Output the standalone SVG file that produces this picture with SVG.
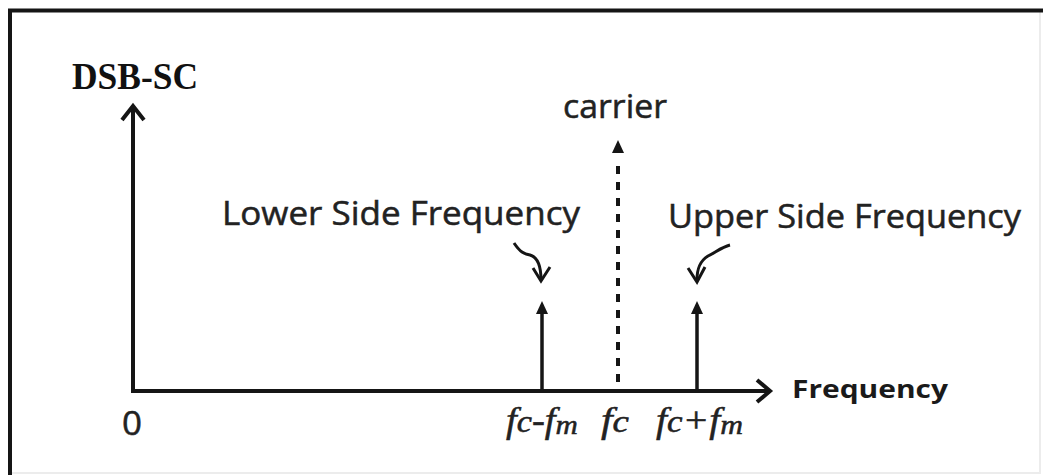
<svg xmlns="http://www.w3.org/2000/svg" width="1043" height="475" viewBox="0 0 1043 475">
  <style>
    .ln { stroke: #151515; fill: none; stroke-linecap: butt; stroke-linejoin: miter; }
    .lbl { font-family: "Open Sans", "Liberation Sans", sans-serif; fill: #222; stroke: #222; stroke-width: 0.5px; font-size: 32px; }
    .bold { font-family: "Open Sans", "Liberation Sans", sans-serif; font-weight: bold; fill: #1a1a1a; font-size: 25px; }
    .tick { font-family: "Liberation Serif", "DejaVu Serif", serif; font-style: italic; fill: #222; stroke: #222; stroke-width: 0.5px; font-size: 35px; }
    .head { fill: #151515; stroke: none; }
  </style>
  <rect width="1043" height="475" fill="#ffffff"/>
  <g id="frame">
    <path d="M1040,12 V473 H10" fill="none" stroke="#ececec" stroke-width="2"/>
    <path d="M10,475 V10.5 H1043" class="ln" stroke-width="4"/>
  </g>
  <g id="title">
    <text x="72" y="89" font-family="Liberation Serif, serif" font-weight="bold" font-size="38" fill="#111" textLength="126" lengthAdjust="spacingAndGlyphs">DSB-SC</text>
  </g>
  <g id="connectors">
    <path d="M133,106 V391 H769" class="ln" stroke-width="4"/>
    <path d="M122,120 L133,106 L144,120" class="ln" stroke-width="4"/>
    <path d="M757,380 L770,391 L757,402" class="ln" stroke-width="4"/>
    <line x1="542" y1="312" x2="542" y2="391" class="ln" stroke-width="3.5"/>
    <path d="M542,301 L548,314 L536,314 Z" class="head"/>
    <line x1="697" y1="312" x2="697" y2="391" class="ln" stroke-width="3.5"/>
    <path d="M697,301 L703,314 L691,314 Z" class="head"/>
    <line x1="618" y1="166" x2="618" y2="391" class="ln" stroke-width="4" stroke-dasharray="8 8"/>
    <path d="M618,140 L624,153 L612,153 Z" class="head"/>
    <path d="M514,243 C520,252 524,254 530,255 C537,257 541,265 541,280" class="ln" stroke-width="3"/>
    <path d="M533,268 L541,281 L550,267" class="ln" stroke-width="3"/>
    <path d="M730,245 C722,247 716,252 708,256 C700,261 697,268 697,280" class="ln" stroke-width="3"/>
    <path d="M688,268 L697,282 L705,267" class="ln" stroke-width="3"/>
  </g>
  <g id="carrier-label">
    <text x="563" y="118" class="lbl" textLength="104" lengthAdjust="spacingAndGlyphs">carrier</text>
  </g>
  <g id="lower-side">
    <text x="222" y="225" class="lbl" textLength="358" lengthAdjust="spacingAndGlyphs">Lower Side Frequency</text>
  </g>
  <g id="upper-side">
    <text x="668" y="228" class="lbl" textLength="353" lengthAdjust="spacingAndGlyphs">Upper Side Frequency</text>
  </g>
  <g id="freq-label">
    <text x="792" y="398" class="bold" textLength="156" lengthAdjust="spacingAndGlyphs">Frequency</text>
  </g>
  <g id="origin">
    <text x="122" y="435" class="lbl" textLength="20" lengthAdjust="spacingAndGlyphs">0</text>
  </g>
  <g id="ticks">
    <text x="506" y="432" class="tick" textLength="72" lengthAdjust="spacingAndGlyphs">f<tspan font-size="31">c</tspan>-f<tspan font-size="28" dy="2">m</tspan></text>
    <text x="601" y="432" class="tick" textLength="28" lengthAdjust="spacingAndGlyphs">f<tspan font-size="31">c</tspan></text>
    <text x="656" y="432" class="tick" textLength="87" lengthAdjust="spacingAndGlyphs">f<tspan font-size="31">c</tspan>+f<tspan font-size="28" dy="2">m</tspan></text>
  </g>
</svg>
